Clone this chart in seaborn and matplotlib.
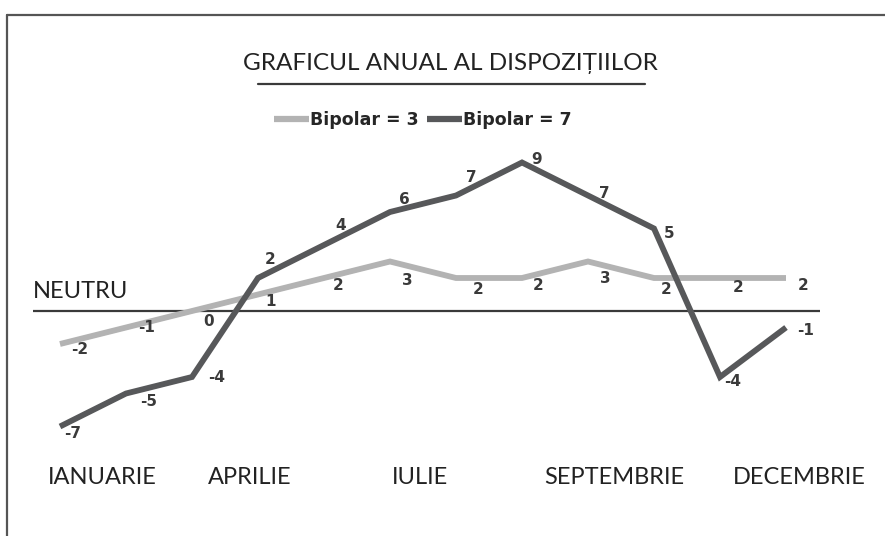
import numpy as np
import pandas as pd
import matplotlib
matplotlib.use('Agg')
import matplotlib.pyplot as plt
import matplotlib.transforms as mtrans
import seaborn as sns
from matplotlib.lines import Line2D

# data
months = list(range(12))
bipolar3 = [-2, -1, 0, 1, 2, 3, 2, 2, 3, 2, 2, 2]
bipolar7 = [-7, -5, -4, 2, 4, 6, 7, 9, 7, 5, -4, -1]
series_names = ["Bipolar = 3", "Bipolar = 7"]
month_labels = ["IANUARIE", "APRILIE", "IULIE", "SEPTEMBRIE", "DECEMBRIE"]
month_label_pos = [0.64, 2.88, 5.45, 8.4, 11.2]

# label offsets in pixels (layout only)
off3 = [(20, -6), (21, 0), (17, -10), (13, -7), (14, -8), (17, -19),
        (22, -12), (16, -8), (17, -17), (12, -11), (18, -9), (17, -8)]
off7 = [(13, -7), (23, -8), (25, -1), (12, 19), (17, 20), (14, 12),
        (15, 18), (15, 3), (16, 2), (15, -5), (13, -5), (20, -3)]

C3 = "#b3b3b3"
C7 = "#57585a"
TXT = "#222222"

sns.set_theme(style="white")
plt.rcParams['font.family'] = ['Lato', 'DejaVu Sans']

df = pd.DataFrame({
    "month": months * 2,
    "value": bipolar3 + bipolar7,
    "series": [series_names[0]] * 12 + [series_names[1]] * 12,
})

fig = plt.figure(figsize=(8.85, 5.36), dpi=100)
ax = fig.add_axes([0, 0, 1, 1])

# px = 60 + 66*i ; py = 311 - 16.5*v
ax.set_xlim(-60 / 66, (885 - 60) / 66)
ax.set_ylim((311 - 536) / 16.5, 311 / 16.5)
ax.axis("off")

# neutral line
ax.axhline(0, xmin=33 / 885, xmax=820 / 885, color="#3a3a3a", lw=1.6, zorder=1)

sns.lineplot(data=df, x="month", y="value", hue="series",
             palette={series_names[0]: C3, series_names[1]: C7},
             linewidth=4.2, legend=False, ax=ax, zorder=3)
for ln in ax.get_lines():
    ln.set_solid_capstyle("butt")
    ln.set_solid_joinstyle("miter")

for vals, offs in ((bipolar3, off3), (bipolar7, off7)):
    for m, v, (dx, dy) in zip(months, vals, offs):
        ax.annotate(str(v), (m, v), xytext=(dx, dy), textcoords="offset pixels",
                    ha="center", va="center", fontsize=11, fontweight="bold",
                    color="#3a3a3a", family=["DejaVu Sans"])

ax.text(33 / 885, 0.55, "NEUTRU",
        transform=mtrans.blended_transform_factory(ax.transAxes, ax.transData),
        ha="left", va="bottom", fontsize=17, color=TXT)

for lab, pos in zip(month_labels, month_label_pos):
    ax.text(pos, 1 - 478 / 536, lab,
            transform=mtrans.blended_transform_factory(ax.transData, ax.transAxes),
            ha="center", va="center", fontsize=17, color=TXT)

# title and underline
ax.text(450 / 885, 1 - 63 / 536, "GRAFICUL ANUAL AL DISPOZIȚIILOR", transform=ax.transAxes,
        ha="center", va="center", fontsize=17.5, color=TXT)
ax.plot([258 / 885, 645 / 885], [1 - 84 / 536] * 2, transform=ax.transAxes,
        color="#3a3a3a", lw=1.6)

# legend
handles = [Line2D([0], [0], color=C3, lw=4.5, solid_capstyle="butt"),
           Line2D([0], [0], color=C7, lw=4.5, solid_capstyle="butt")]
ax.legend(handles, series_names, loc="center", bbox_to_anchor=(423 / 885, 1 - 120 / 536),
          ncol=2, frameon=False, handlelength=2.0, handletextpad=0.1, columnspacing=0.45,
          prop={"weight": "bold", "size": 12.5, "family": ["DejaVu Sans"]})

# frame around the chart
fig.add_artist(Line2D([7 / 885, 7 / 885], [0, 1 - 15 / 536], color="#555555", lw=1.6))
fig.add_artist(Line2D([7 / 885, 1], [1 - 15 / 536, 1 - 15 / 536], color="#555555", lw=1.6))

fig.savefig("out.png", dpi=100)
